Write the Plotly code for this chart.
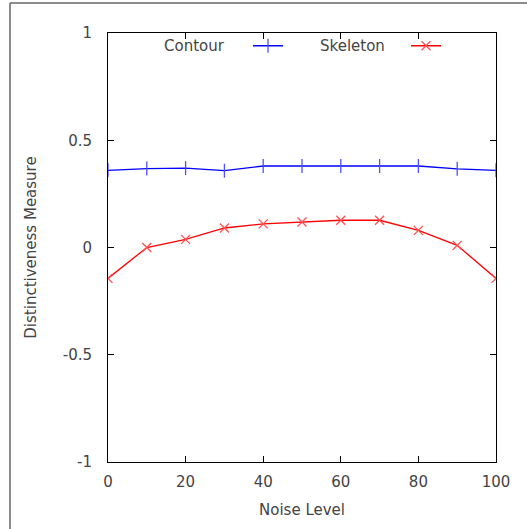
import plotly.graph_objects as go

noise = [0, 10, 20, 30, 40, 50, 60, 70, 80, 90, 100]
contour = [0.36, 0.368, 0.37, 0.358, 0.38, 0.38, 0.38, 0.38, 0.38, 0.367, 0.36]
skeleton = [-0.144, 0.0, 0.038, 0.091, 0.11, 0.119, 0.127, 0.127, 0.08, 0.01, -0.144]
xticks = [0, 20, 40, 60, 80, 100]
yticks = [-1, -0.5, 0, 0.5, 1]
yticklabels = ["-1", "-0.5", "0", "0.5", "1"]

W, H = 527, 529
L, R, T, B = 108, 496, 33, 462

font = dict(family="DejaVu Sans", size=15, color="#444444")

fig = go.Figure()
fig.add_trace(go.Scatter(
    x=noise, y=contour, mode="lines+markers", name=" ",
    line=dict(color="#0000ff", width=1.3),
    marker=dict(symbol="line-ns", size=10, line=dict(color="#5050ff", width=1.3)),
    legend="legend",
))
fig.add_trace(go.Scatter(
    x=noise, y=skeleton, mode="lines+markers", name=" ",
    line=dict(color="#ff0000", width=1.3),
    marker=dict(symbol="x-thin", size=9, line=dict(color="#ff5050", width=1.3)),
    legend="legend2",
))

def px(p):
    return (p - L) / (R - L)

def py(p):
    return (B - p) / (B - T)

axis_common = dict(
    showgrid=False, zeroline=False, showline=True, linecolor="black", linewidth=1,
    mirror="allticks", ticks="inside", ticklen=6, tickcolor="black", tickwidth=1,
    tickfont=font,
)

fig.update_layout(
    width=W, height=H,
    margin=dict(l=L, r=W - R, t=T, b=H - B),
    paper_bgcolor="white", plot_bgcolor="white",
    font=font,
    xaxis=dict(range=[0, 100], tickvals=xticks, ticklabelstandoff=6,
               title=dict(text="Noise Level", font=font, standoff=14), **axis_common),
    yaxis=dict(range=[-1, 1], tickvals=yticks, ticktext=yticklabels, ticklabelstandoff=12,
               title=dict(text="Distinctiveness Measure", font=font, standoff=22), **axis_common),
    showlegend=True,
    legend=dict(x=px(248), y=py(46), xanchor="left", yanchor="middle",
                bgcolor="rgba(0,0,0,0)", borderwidth=0, font=font, itemwidth=30),
    legend2=dict(x=px(406), y=py(46), xanchor="left", yanchor="middle",
                 bgcolor="rgba(0,0,0,0)", borderwidth=0, font=font, itemwidth=30),
    annotations=[
        dict(text="Contour", x=px(227), y=py(46), xref="paper", yref="paper",
             xanchor="right", yanchor="middle", showarrow=False, font=font),
        dict(text="Skeleton", x=px(387), y=py(46), xref="paper", yref="paper",
             xanchor="right", yanchor="middle", showarrow=False, font=font),
    ],
    shapes=[
        dict(type="line", xref="paper", yref="paper", x0=px(10), x1=px(10), y0=py(3), y1=py(529),
             line=dict(color="#666666", width=1.5)),
        dict(type="line", xref="paper", yref="paper", x0=px(10), x1=px(527), y0=py(3), y1=py(3),
             line=dict(color="#666666", width=1.5)),
    ],
)

fig.write_html("out.html")
